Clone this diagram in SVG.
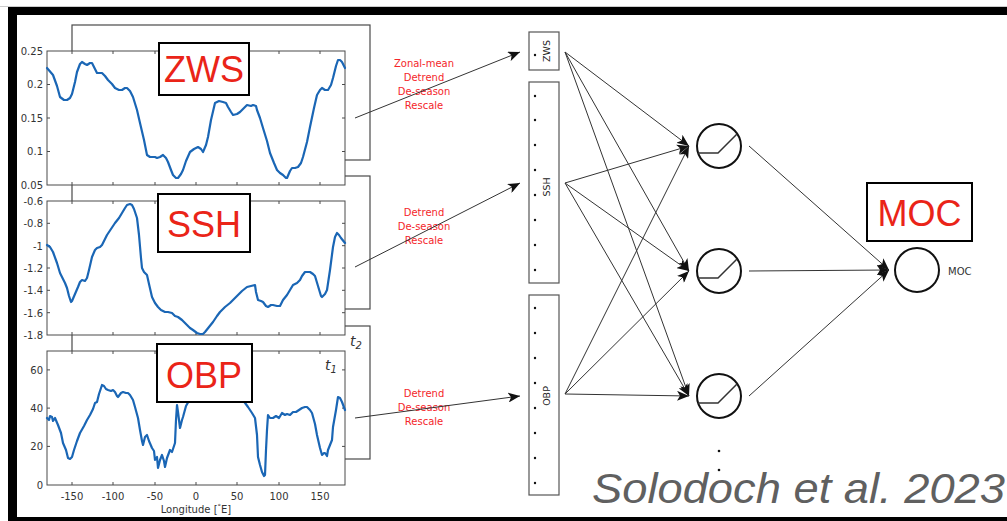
<svg xmlns="http://www.w3.org/2000/svg" xmlns:xlink="http://www.w3.org/1999/xlink" width="1007" height="521" viewBox="0 0 1007 521">
  <defs>
    <style>
      .frame { fill: #fff; stroke: #4a4a4a; stroke-width: 1; }
      .back { fill: #fff; stroke: #4a4a4a; stroke-width: 1.2; }
      .tick { fill: none; stroke: #4a4a4a; stroke-width: 1; }
      .curve { fill: none; stroke: #1a66b5; stroke-width: 2.2; stroke-linejoin: round; stroke-linecap: round; }
      .ax { font-family: "DejaVu Sans", sans-serif; font-size: 10px; fill: #333; }
      .axr { text-anchor: end; }
      .axc { text-anchor: middle; }
      .tlab { font-family: "DejaVu Sans", sans-serif; font-style: italic; fill: #333; }
      .tag { fill: #fff; stroke: #000; stroke-width: 2; }
      .tagtxt { font-family: "Liberation Sans", Arial, sans-serif; font-size: 36px; fill: #ea2418; text-anchor: middle; }
      .step { font-family: "DejaVu Sans", sans-serif; font-size: 10px; fill: #f4262a; text-anchor: middle; }
      .col { fill: #fff; stroke: #555; stroke-width: 1.2; }
      .coltxt { font-family: "DejaVu Sans", sans-serif; font-size: 9.5px; fill: #222; text-anchor: middle; }
      .dot { fill: #111; }
      .link { fill: none; stroke: #333; stroke-width: 1; }
      .neuron { fill: #fff; stroke: #111; stroke-width: 2; }
      .relu { fill: none; stroke: #333; stroke-width: 1.5; }
      .cite { font-family: "Liberation Sans", Arial, sans-serif; font-style: italic; font-size: 42px; fill: #606060; }
    </style>
    <marker id="head" viewBox="0 0 12 10" refX="12" refY="5" markerWidth="12" markerHeight="10" markerUnits="userSpaceOnUse" orient="auto">
      <path d="M0,0 L12,5 L0,10 L3,5 z" fill="#111"/>
    </marker>
    <!-- plot frame with longitude ticks, 298 x 134 -->
    <g id="plotframe">
      <rect class="frame" x="0" y="0" width="298" height="134"/>
      <path class="tick" d="M25 0v3M66 0v3M108 0v3M149 0v3M190 0v3M232 0v3M273 0v3M25 134v-3M66 134v-3M108 134v-3M149 134v-3M190 134v-3M232 134v-3M273 134v-3"/>
    </g>
  </defs>

  <rect x="0" y="0" width="1007" height="521" fill="#fff"/>

  <!-- outer black frame -->
  <rect x="8" y="7" width="999" height="8" fill="#000"/>
  <rect x="8" y="7" width="9" height="514" fill="#000"/>
  <rect x="8" y="517" width="999" height="4" fill="#000"/>
  <line x1="0" y1="6.5" x2="1007" y2="6.5" stroke="#ccc" stroke-width="1"/>

  <!-- stacked time panes behind each plot -->
  <g id="panes">
    <rect class="back" x="72" y="25" width="298" height="135"/>
    <rect class="back" x="72" y="176" width="298" height="133"/>
    <rect class="back" x="72" y="326" width="298" height="133"/>
    <text class="tlab" x="350" y="346" font-size="14">t<tspan font-size="10" dy="3">2</tspan></text>
  </g>

  <!-- zonal wind stress plot -->
  <g id="plot-zws">
    <use xlink:href="#plotframe" x="47" y="51"/>
    <path class="tick" d="M47 84.5h3M47 118h3M47 151.5h3M345 84.5h-3M345 118h-3M345 151.5h-3"/>
    <polyline class="curve" points="47,68 53,75 57,86 60,97 64,100 67,100 70,98 72,94 75,82 77,72 80,64 82,62 85,64 87,65 90,63 92,63 95,69 97,73 102,73 105,76 108,80 112,84 115,88 119,90 122,90 125,88 127,88 130,91 133,97 137,110 140,123 144,140 147,155 150,157 152,157 155,157 157,158 160,157 163,155 166,158 168,162 171,170 173,175 176,178 178,178 181,174 183,170 186,161 190,152 194,149 198,147 201,149 203,152 206,145 208,137 211,120 215,103 219,101 223,102 226,103 228,107 231,112 233,115 237,114 240,112 244,108 247,105 251,106 253,105 256,106 257,110 260,118 263,128 267,141 270,153 274,163 277,170 280,173 283,175 286,178 287,178 290,171 292,168 295,168 298,167 301,163 303,157 307,142 310,127 314,108 317,95 320,90 322,88 325,90 328,90 331,85 333,78 336,66 338,60 340,60 342,62 345,68"/>
    <text class="ax axr" x="43" y="55">0.25</text>
    <text class="ax axr" x="43" y="88">0.2</text>
    <text class="ax axr" x="43" y="122">0.15</text>
    <text class="ax axr" x="43" y="155">0.1</text>
    <text class="ax axr" x="43" y="189">0.05</text>
  </g>

  <!-- sea surface height plot -->
  <g id="plot-ssh">
    <use xlink:href="#plotframe" x="47" y="201"/>
    <path class="tick" d="M47 223.3h3M47 245.7h3M47 268h3M47 290.3h3M47 312.7h3M345 223.3h-3M345 245.7h-3M345 268h-3M345 290.3h-3M345 312.7h-3"/>
    <polyline class="curve" points="47,245 50,247 53,252 57,263 60,273 62,277 65,283 67,288 69,296 71,302 72,301 75,294 78,287 80,282 82,280 85,281 87,278 89,270 92,257 95,250 97,248 100,247 102,245 105,239 107,235 111,229 115,223 119,218 122,213 125,208 127,205 130,204 132,205 134,209 137,218 139,235 141,258 142,268 144,272 147,275 149,284 152,297 155,303 158,307 161,310 165,312 168,312 172,313 175,316 178,317 182,320 187,325 190,328 193,330 197,333 200,334 203,334 205,332 209,327 213,322 217,316 220,312 225,307 230,303 234,299 238,295 242,291 247,287 251,286 255,285 256,292 258,300 261,301 263,302 266,306 268,307 271,305 273,305 277,306 280,306 283,300 287,295 290,290 293,285 297,283 300,280 302,276 305,272 308,272 310,272 313,274 315,276 318,286 321,296 322,297 325,294 327,290 330,270 333,247 335,237 337,233 339,235 341,238 345,243"/>
    <text class="ax axr" x="43" y="205">-0.6</text>
    <text class="ax axr" x="43" y="227">-0.8</text>
    <text class="ax axr" x="43" y="250">-1</text>
    <text class="ax axr" x="43" y="272">-1.2</text>
    <text class="ax axr" x="43" y="294">-1.4</text>
    <text class="ax axr" x="43" y="317">-1.6</text>
    <text class="ax axr" x="43" y="339">-1.8</text>
  </g>

  <!-- ocean bottom pressure plot -->
  <g id="plot-obp">
    <use xlink:href="#plotframe" x="47" y="351"/>
    <path class="tick" d="M47 369.9h3M47 408.1h3M47 446.4h3M345 369.9h-3M345 408.1h-3M345 446.4h-3"/>
    <polyline class="curve" points="47,418 49,420 50,416 52,417 53,421 55,418 58,425 61,433 63,443 66,450 68,458 70,459 72,457 74,450 77,441 80,433 84,426 87,420 90,415 93,409 95,403 97,402 99,394 102,385 104,386 106,389 108,390 111,391 113,390 115,392 117,396 118,397 121,393 123,392 126,393 128,393 130,395 133,400 135,407 138,418 140,430 142,441 143,445 145,437 147,435 149,441 152,448 154,451 155,460 157,457 158,468 160,460 162,455 164,461 165,467 167,458 170,450 172,452 175,443 176,420 177,405 178,412 180,428 182,420 183,417 186,406 190,399 200,395 215,396 230,392 240,396 248,407 252,413 255,418 257,435 258,457 260,465 262,472 264,476 265,475 266,450 267,430 268,415 270,418 273,418 276,416 279,418 282,413 285,415 287,414 290,415 293,412 296,412 299,410 302,408 305,407 307,407 310,410 312,413 315,424 317,435 320,448 322,455 324,453 325,453 327,456 328,450 330,445 332,440 333,427 336,410 338,397 340,398 342,402 345,410"/>
    <text class="tlab" x="325" y="370" font-size="14">t<tspan font-size="10" dy="3">1</tspan></text>
    <text class="ax axr" x="43" y="374">60</text>
    <text class="ax axr" x="43" y="412">40</text>
    <text class="ax axr" x="43" y="450">20</text>
    <text class="ax axr" x="43" y="489">0</text>
    <text class="ax axc" x="72" y="500">-150</text>
    <text class="ax axc" x="113" y="500">-100</text>
    <text class="ax axc" x="155" y="500">-50</text>
    <text class="ax axc" x="196" y="500">0</text>
    <text class="ax axc" x="237" y="500">50</text>
    <text class="ax axc" x="279" y="500">100</text>
    <text class="ax axc" x="320" y="500">150</text>
    <text class="ax axc" x="196" y="513">Longitude [<tspan font-size="7" dy="-4">°</tspan><tspan dy="4">E]</tspan></text>
  </g>

  <!-- variable tags -->
  <g id="tag-zws">
    <rect class="tag" x="159" y="43" width="90" height="52"/>
    <text class="tagtxt" x="204" y="82">ZWS</text>
  </g>
  <g id="tag-ssh">
    <rect class="tag" x="158" y="194" width="92" height="58"/>
    <text class="tagtxt" x="204" y="237">SSH</text>
  </g>
  <g id="tag-obp">
    <rect class="tag" x="157" y="344" width="95" height="58"/>
    <text class="tagtxt" x="204" y="388">OBP</text>
  </g>

  <!-- preprocessing steps -->
  <g id="steps">
    <text class="step" x="424" y="67">Zonal-mean</text>
    <text class="step" x="424" y="81">Detrend</text>
    <text class="step" x="424" y="95">De-season</text>
    <text class="step" x="424" y="109">Rescale</text>
    <text class="step" x="424" y="216">Detrend</text>
    <text class="step" x="424" y="230">De-season</text>
    <text class="step" x="424" y="244">Rescale</text>
    <text class="step" x="424" y="397">Detrend</text>
    <text class="step" x="424" y="411">De-season</text>
    <text class="step" x="424" y="425">Rescale</text>
  </g>

  <!-- input columns -->
  <g id="input-zws">
    <rect class="col" x="529" y="32" width="30" height="38"/>
    <circle class="dot" cx="535" cy="55" r="1.2"/>
    <text class="coltxt" transform="translate(550,51) rotate(-90)">ZWS</text>
  </g>
  <g id="input-ssh">
    <rect class="col" x="529" y="82" width="30" height="201"/>
    <circle class="dot" cx="535" cy="96" r="1.2"/>
    <circle class="dot" cx="535" cy="120" r="1.2"/>
    <circle class="dot" cx="535" cy="145" r="1.2"/>
    <circle class="dot" cx="535" cy="170" r="1.2"/>
    <circle class="dot" cx="535" cy="195" r="1.2"/>
    <circle class="dot" cx="535" cy="220" r="1.2"/>
    <circle class="dot" cx="535" cy="245" r="1.2"/>
    <circle class="dot" cx="535" cy="270" r="1.2"/>
    <text class="coltxt" transform="translate(550,187) rotate(-90)">SSH</text>
  </g>
  <g id="input-obp">
    <rect class="col" x="529" y="295" width="30" height="200"/>
    <circle class="dot" cx="535" cy="308" r="1.2"/>
    <circle class="dot" cx="535" cy="333" r="1.2"/>
    <circle class="dot" cx="535" cy="358" r="1.2"/>
    <circle class="dot" cx="535" cy="383" r="1.2"/>
    <circle class="dot" cx="535" cy="408" r="1.2"/>
    <circle class="dot" cx="535" cy="433" r="1.2"/>
    <circle class="dot" cx="535" cy="458" r="1.2"/>
    <circle class="dot" cx="535" cy="483" r="1.2"/>
    <text class="coltxt" transform="translate(550,396) rotate(-90)">OBP</text>
  </g>

  <!-- connectors -->
  <g id="connectors">
    <line class="link" x1="355" y1="118" x2="520" y2="52" marker-end="url(#head)"/>
    <line class="link" x1="355" y1="267" x2="520" y2="183" marker-end="url(#head)"/>
    <line class="link" x1="355" y1="418" x2="520" y2="396" marker-end="url(#head)"/>

    <line class="link" x1="565" y1="52" x2="689" y2="146" marker-end="url(#head)"/>
    <line class="link" x1="565" y1="52" x2="689" y2="271" marker-end="url(#head)"/>
    <line class="link" x1="565" y1="52" x2="689" y2="396" marker-end="url(#head)"/>
    <line class="link" x1="565" y1="183" x2="689" y2="146" marker-end="url(#head)"/>
    <line class="link" x1="565" y1="183" x2="689" y2="271" marker-end="url(#head)"/>
    <line class="link" x1="565" y1="183" x2="689" y2="396" marker-end="url(#head)"/>
    <line class="link" x1="565" y1="394" x2="689" y2="146" marker-end="url(#head)"/>
    <line class="link" x1="565" y1="394" x2="689" y2="271" marker-end="url(#head)"/>
    <line class="link" x1="565" y1="394" x2="689" y2="396" marker-end="url(#head)"/>

    <line class="link" x1="749" y1="146" x2="889" y2="270" marker-end="url(#head)"/>
    <line class="link" x1="749" y1="271" x2="889" y2="270" marker-end="url(#head)"/>
    <line class="link" x1="749" y1="396" x2="889" y2="270" marker-end="url(#head)"/>
  </g>

  <!-- hidden layer -->
  <g id="hidden-1">
    <circle class="neuron" cx="719" cy="146" r="22"/>
    <path class="relu" d="M698 153H718L737 134"/>
  </g>
  <g id="hidden-2">
    <circle class="neuron" cx="719" cy="271" r="22"/>
    <path class="relu" d="M698 278H718L737 259"/>
  </g>
  <g id="hidden-3">
    <circle class="neuron" cx="719" cy="396" r="22"/>
    <path class="relu" d="M698 403H718L737 384"/>
  </g>
  <g id="hidden-more">
    <circle class="dot" cx="719" cy="451" r="1.3"/>
    <circle class="dot" cx="719" cy="470" r="1.3"/>
  </g>

  <!-- output -->
  <g id="output-moc">
    <circle class="neuron" cx="917" cy="270" r="22"/>
    <text class="ax" x="948" y="275" fill="#222">MOC</text>
  </g>
  <g id="tag-moc">
    <rect class="tag" x="867" y="183" width="105" height="58"/>
    <text class="tagtxt" x="919.5" y="226" font-size="37">MOC</text>
  </g>

  <text class="cite" x="592" y="503" textLength="413" lengthAdjust="spacingAndGlyphs">Solodoch et al. 2023</text>
</svg>
